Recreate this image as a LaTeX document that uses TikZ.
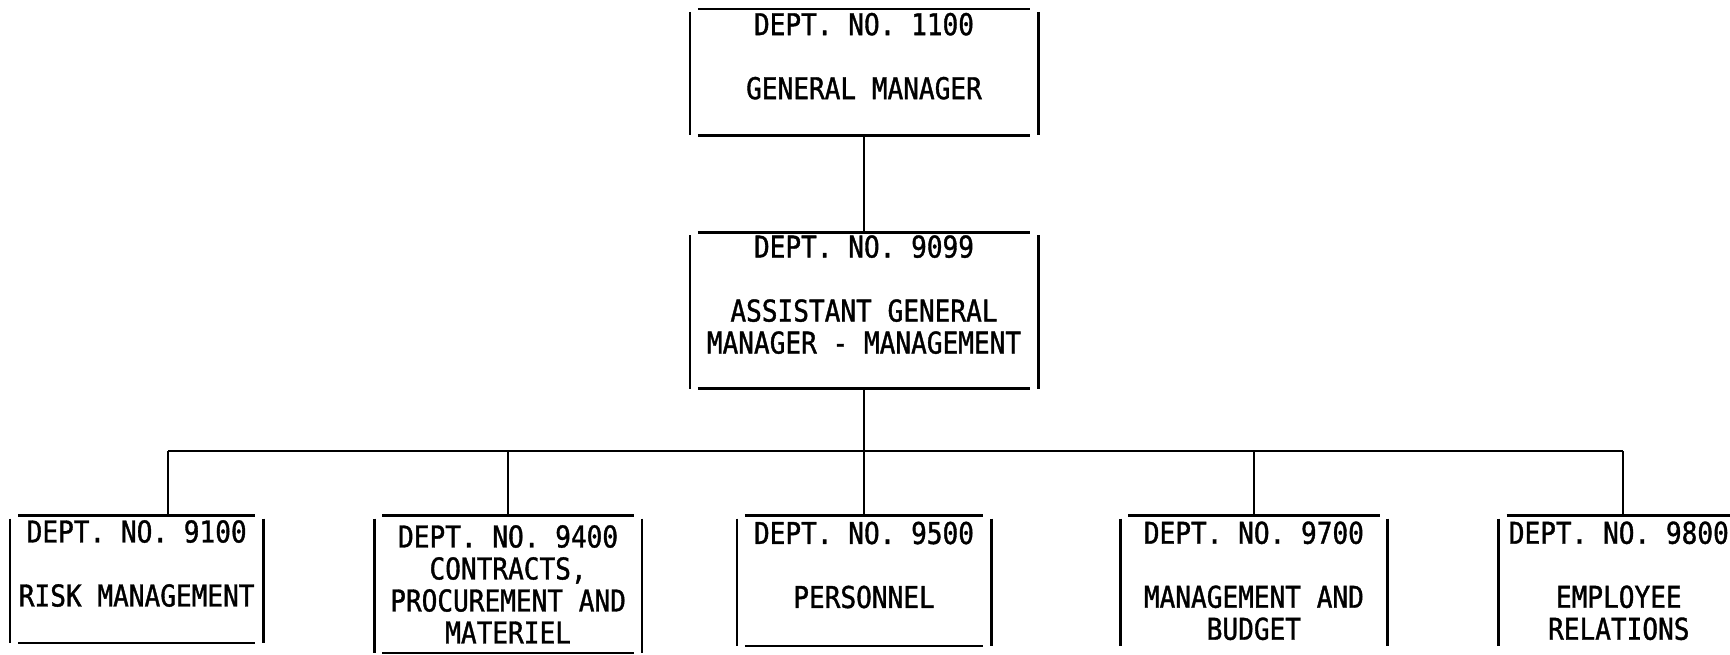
\documentclass[tikz,border=0pt]{standalone}
\usepackage{fontspec}
\newfontfamily\printfont{DejaVu Sans Mono}[FakeStretch=0.87, FakeBold=1.2]
\usepackage{tikz}
\usetikzlibrary{positioning}

\begin{document}
\begin{tikzpicture}[x=1pt, y=-1pt, every node/.style={font=\printfont\fontsize{30}{32}\selectfont}]
\tikzset{dept/.style={inner sep=0pt, align=center}}
\tikzset{boxline/.style={line width=2.6pt}}
\tikzset{link/.style={line width=2.4pt}}
\path[fill=white, use as bounding box] (0,0) rectangle (1730,654);
\node[dept, minimum width=348pt, minimum height=126pt] (gm) at (864,72) {DEPT. NO. 1100\\ \mbox{}\\ GENERAL MANAGER\\ \mbox{}};
\node[dept, minimum width=348pt, minimum height=156pt, below=97pt of gm] (agm) {DEPT. NO. 9099\\ \mbox{}\\ ASSISTANT GENERAL\\ MANAGER - MANAGEMENT\\ \mbox{}};
\node[dept, minimum width=254pt, minimum height=130pt, below=127pt of agm] (personnel) {DEPT. NO. 9500\\ \mbox{}\\ PERSONNEL\\ \mbox{}};
\node[dept, minimum width=267pt, minimum height=137pt, left=95pt of personnel.north west, anchor=north east] (contracts) {DEPT. NO. 9400\\ CONTRACTS,\\ PROCUREMENT AND\\ MATERIEL};
\node[dept, minimum width=253pt, minimum height=127pt, left=111pt of contracts.north west, anchor=north east] (risk) {DEPT. NO. 9100\\ \mbox{}\\ RISK MANAGEMENT\\ \mbox{}};
\node[dept, minimum width=267pt, minimum height=130pt, right=129pt of personnel.north east, anchor=north west] (budget) {DEPT. NO. 9700\\ \mbox{}\\ MANAGEMENT AND\\ BUDGET};
\node[dept, minimum width=240pt, minimum height=130pt, right=111pt of budget.north east, anchor=north west] (relations) {DEPT. NO. 9800\\ \mbox{}\\ EMPLOYEE\\ RELATIONS};
% frames with open corners
\foreach \n in {gm,agm,risk,contracts,personnel,budget,relations}{
  \draw[boxline] ([xshift=8pt]\n.north west) -- ([xshift=-8pt]\n.north east);
  \draw[boxline] ([yshift=-3pt]\n.north west) -- (\n.south west);
  \draw[boxline] ([yshift=-3pt]\n.north east) -- (\n.south east);
}
\foreach \n in {gm,agm,risk,contracts,personnel}
  \draw[boxline] ([xshift=8pt]\n.south west) -- ([xshift=-8pt]\n.south east);
% connectors
\draw[link] (gm) -- (agm);
\draw[link] (agm) -- (personnel);
\coordinate (busL) at (168,451);
\coordinate (busR) at (1623,451);
\draw[link] (busL) -- (busR);
\draw[link] (busL) -- (busL |- risk.north);
\draw[link] (contracts.north |- busL) -- (contracts.north);
\draw[link] (budget.north |- busL) -- (budget.north);
\draw[link] (busR) -- (busR |- relations.north);
\end{tikzpicture}
\end{document}
